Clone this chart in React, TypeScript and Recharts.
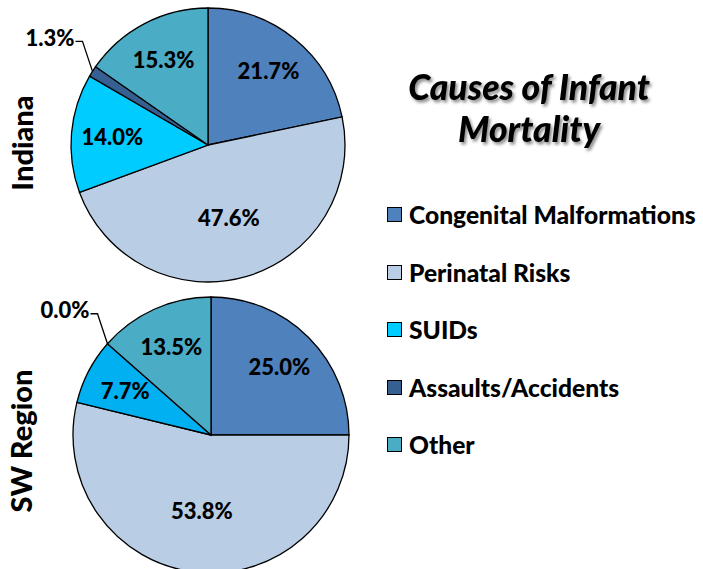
import React from 'react';
import { PieChart, Pie, Cell, Legend, Customized } from 'recharts';

const categories = ['Congenital Malformations', 'Perinatal Risks', 'SUIDs', 'Assaults/Accidents', 'Other'];
const indianaValues = [21.7, 47.6, 14.0, 1.3, 15.3];
const swValues = [25.0, 53.8, 7.7, 0.0, 13.5];
const regionLabels = ['Indiana', 'SW Region'];
const titleLines = ['Causes of Infant', 'Mortality'];
const indianaColors = ['#4F81BD', '#B9CDE5', '#00CCFF', '#366092', '#4BACC6'];
const swColors = ['#4F81BD', '#B9CDE5', '#00B0F0', '#366092', '#4BACC6'];

const indianaData = categories.map((name, i) => ({ name, value: indianaValues[i] }));
const swData = categories.map((name, i) => ({ name, value: swValues[i] }));

const FONT = 'Lato, "DejaVu Sans", sans-serif';
const RAD = Math.PI / 180;

const renderLabel = (props: any) => {
  const { cx, cy, midAngle, outerRadius, value, index } = props;
  const v = typeof value === 'number' ? value : props.payload?.value;
  const txt = `${Number(v).toFixed(1)}%`;
  if (v < 2) {
    const ex = cx + outerRadius * Math.cos(-midAngle * RAD);
    const ey = cy + outerRadius * Math.sin(-midAngle * RAD);
    const bx = ex - 10;
    const by = ey - 30;
    return (
      <g key={`lbl-${index}`}>
        <polyline points={`${ex},${ey} ${bx},${by} ${bx - 7},${by}`} fill="none" stroke="#000" strokeWidth={1.3} />
        <text x={bx - 8} y={by - 4} textAnchor="end" dominantBaseline="central" fontFamily={FONT} fontWeight={900} fontSize={22} fill="#000">
          {txt}
        </text>
      </g>
    );
  }
  const frac = v > 40 ? 0.55 : 0.7;
  const r = outerRadius * frac;
  const x = cx + r * Math.cos(-midAngle * RAD);
  const y = cy + r * Math.sin(-midAngle * RAD);
  return (
    <text key={`lbl-${index}`} x={x} y={y} textAnchor="middle" dominantBaseline="central" fontFamily={FONT} fontWeight={900} fontSize={22} fill="#000">
      {txt}
    </text>
  );
};

const renderLegend = () => (
  <div style={{ fontFamily: FONT, fontWeight: 900, fontSize: 24.6, color: '#000', whiteSpace: 'nowrap' }}>
    {categories.map((c, i) => (
      <div key={c} style={{ height: 57.5, display: 'flex', alignItems: 'center' }}>
        <span style={{ display: 'inline-block', width: 13, height: 13, background: indianaColors[i], border: '1px solid #000', marginRight: 7 }} />
        <span>{c}</span>
      </div>
    ))}
  </div>
);

const Decorations = () => (
  <g>
    <defs>
      <filter id="tshadow" x="-10%" y="-30%" width="130%" height="180%">
        <feDropShadow dx="2" dy="2.5" stdDeviation="1.6" floodColor="#000" floodOpacity="0.45" />
      </filter>
    </defs>
    {titleLines.map((t, i) => (
      <text key={t} x={529} y={100 + i * 42} textAnchor="middle" fontFamily={FONT} fontWeight={900} fontStyle="italic" fontSize={35.5} fill="#000" filter="url(#tshadow)">
        {t}
      </text>
    ))}
    <text transform="translate(33,143) rotate(-90)" textAnchor="middle" fontFamily={FONT} fontWeight={900} fontSize={29} fill="#000">
      {regionLabels[0]}
    </text>
    <text transform="translate(32,441) rotate(-90)" textAnchor="middle" fontFamily={FONT} fontWeight={900} fontSize={29} fill="#000">
      {regionLabels[1]}
    </text>
  </g>
);

export default function App() {
  return (
    <div style={{ position: 'absolute', left: 0, top: 0, width: 703, height: 569, background: '#fff' }}>
      <PieChart width={703} height={569} margin={{ top: 0, right: 0, bottom: 0, left: 0 }}>
        <Pie
          data={indianaData}
          dataKey="value"
          nameKey="name"
          cx={208}
          cy={145}
          outerRadius={137}
          startAngle={90}
          endAngle={-270}
          stroke="#000"
          strokeWidth={1.3}
          label={renderLabel}
          labelLine={false}
          isAnimationActive={false}
        >
          {indianaData.map((d, i) => (
            <Cell key={d.name} fill={indianaColors[i]} />
          ))}
        </Pie>
        <Pie
          data={swData}
          dataKey="value"
          nameKey="name"
          cx={211}
          cy={435}
          outerRadius={138}
          startAngle={90}
          endAngle={-270}
          stroke="#000"
          strokeWidth={1.3}
          label={renderLabel}
          labelLine={false}
          isAnimationActive={false}
        >
          {swData.map((d, i) => (
            <Cell key={d.name} fill={swColors[i]} />
          ))}
        </Pie>
        <Legend
          content={renderLegend}
          layout="vertical"
          wrapperStyle={{ position: 'absolute', left: 387, top: 186, width: 316 }}
        />
        <Customized component={Decorations} />
      </PieChart>
    </div>
  );
}
